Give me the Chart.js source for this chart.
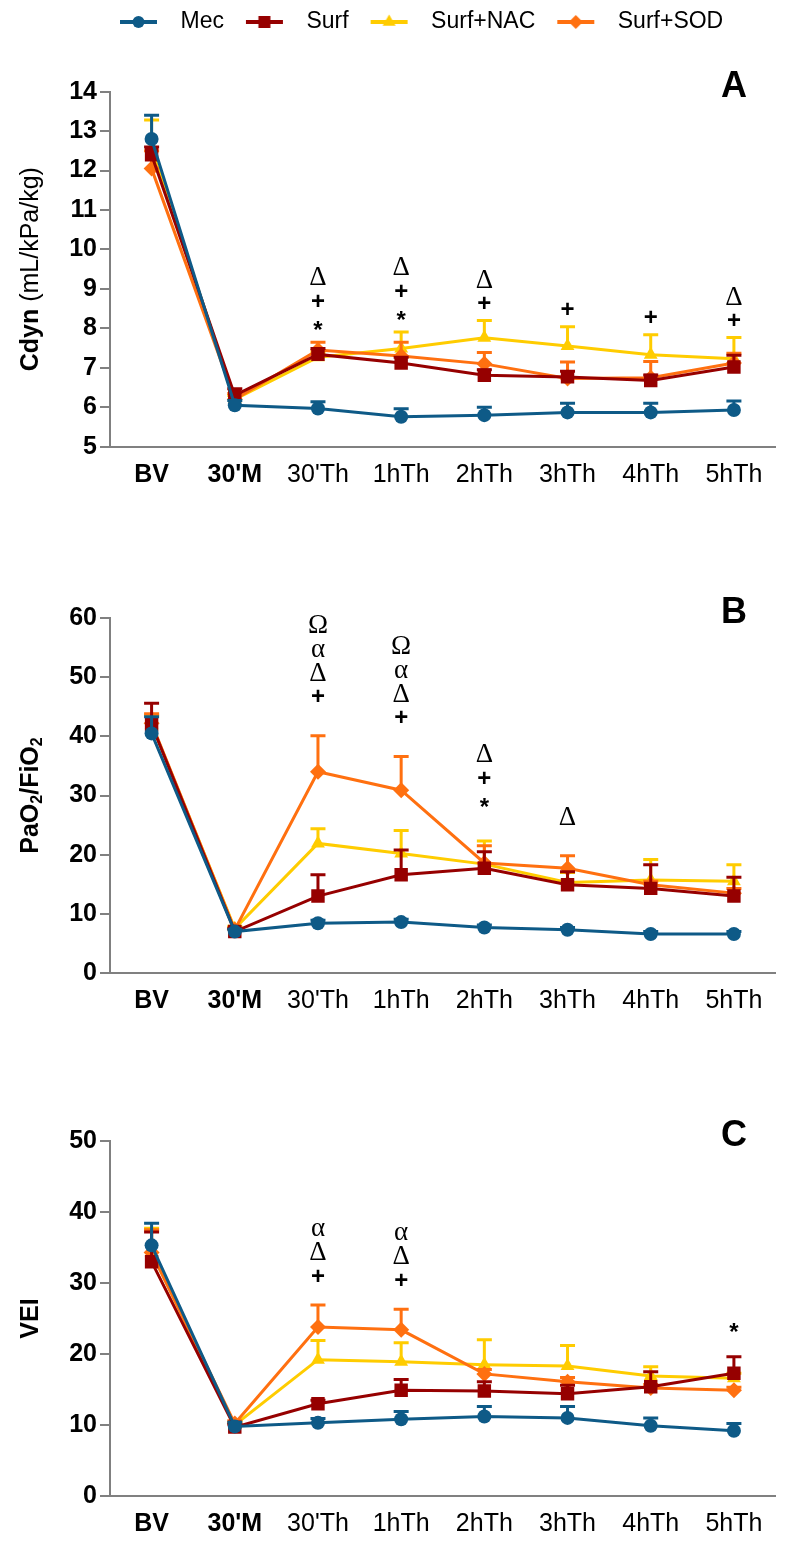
<!DOCTYPE html>
<html>
<head>
<meta charset="utf-8">
<script src="https://cdn.jsdelivr.net/npm/chart.js@4.4.1/dist/chart.umd.min.js"></script>
<style>
body { margin: 0; background: #fff; }
#wrap { position: relative; width: 785px; height: 1550px; }
canvas { position: absolute; left: 0; }
</style>
</head>
<body>
<div id="wrap">
<canvas id="cdyn" width="785" height="500" style="top:0px"></canvas>
<canvas id="pao" width="785" height="530" style="top:500px"></canvas>
<canvas id="vei" width="785" height="520" style="top:1030px"></canvas>
</div>
<script>
var timeLabels = ['BV', "30'M", "30'Th", '1hTh', '2hTh', '3hTh', '4hTh', '5hTh'];
var seriesNames = ['Mec', 'Surf', 'Surf+NAC', 'Surf+SOD'];

// A: Cdyn, means and upper SE
var cdynMec  = [12.8, 6.05, 5.97, 5.76, 5.80, 5.87, 5.87, 5.93];
var cdynSurf = [12.4, 6.30, 7.34, 7.12, 6.81, 6.77, 6.68, 7.02];
var cdynNac  = [12.55, 6.20, 7.27, 7.49, 7.76, 7.55, 7.33, 7.23];
var cdynSod  = [12.05, 6.20, 7.45, 7.30, 7.10, 6.73, 6.75, 7.12];
var cdynMecErr  = [0.60, 0.12, 0.17, 0.20, 0.20, 0.23, 0.23, 0.23];
var cdynSurfErr = [0.20, 0.17, 0.15, 0.15, 0.14, 0.14, 0.14, 0.30];
var cdynNacErr  = [0.73, 0.10, 0.12, 0.42, 0.44, 0.49, 0.51, 0.54];
var cdynSodErr  = [0.45, 0.15, 0.20, 0.35, 0.29, 0.42, 0.41, 0.25];
var cdynNotes = [[], [], ['Δ', '+', '*'], ['Δ', '+', '*'], ['Δ', '+'], ['+'], ['+'], ['Δ', '+']];

// B: PaO2/FiO2
var paoMec  = [40.5, 7.0, 8.4, 8.6, 7.7, 7.3, 6.6, 6.6];
var paoSurf = [42.0, 7.0, 13.0, 16.6, 17.7, 14.9, 14.3, 13.0];
var paoNac  = [42.0, 7.5, 21.9, 20.2, 18.4, 15.3, 15.7, 15.5];
var paoSod  = [42.2, 7.3, 34.0, 30.9, 18.6, 17.7, 14.9, 13.5];
var paoMecErr  = [2.8, 0.4, 0.5, 0.5, 0.4, 0.4, 0.4, 0.4];
var paoSurfErr = [3.6, 0.5, 3.6, 4.2, 2.8, 2.2, 4.0, 3.2];
var paoNacErr  = [1.6, 0.4, 2.5, 3.9, 3.9, 1.7, 3.5, 2.8];
var paoSodErr  = [1.6, 0.4, 6.1, 5.7, 2.9, 2.1, 0.6, 0.8];
var paoNotes = [[], [], ['Ω', 'α', 'Δ', '+'], ['Ω', 'α', 'Δ', '+'], ['Δ', '+', '*'], ['Δ'], [], []];

// C: VEI
var veiMec  = [35.3, 9.8, 10.3, 10.8, 11.2, 11.0, 9.9, 9.2];
var veiSurf = [33.0, 9.7, 13.0, 14.9, 14.8, 14.4, 15.4, 17.3];
var veiNac  = [34.3, 10.0, 19.2, 18.9, 18.5, 18.3, 16.9, 16.6];
var veiSod  = [34.3, 10.2, 23.8, 23.4, 17.2, 16.1, 15.2, 14.9];
var veiMecErr  = [3.1, 0.6, 0.6, 1.1, 1.4, 1.6, 1.1, 1.0];
var veiSurfErr = [4.2, 0.4, 0.5, 1.5, 1.3, 1.2, 2.1, 2.3];
var veiNacErr  = [3.4, 0.4, 2.7, 2.7, 3.5, 2.9, 1.3, 0.7];
var veiSodErr  = [3.2, 0.4, 3.1, 2.9, 0.6, 0.6, 0.5, 0.4];
var veiNotes = [[], [], ['α', 'Δ', '+'], ['α', 'Δ', '+'], [], [], [], ['*']];

var SANS = "'Liberation Sans', Arial, sans-serif";
var SERIF = "'Liberation Serif', 'Times New Roman', serif";
var AXIS = '#808080';
var colors = ['#0E5A87', '#960000', '#FFCC00', '#FF7010'];
var markers = ['circle', 'rect', 'triangle', 'rectRot'];
var markerSize = [7, 9.5, 8, 8];
var drawOrder = [0, 1, 3, 2];

function shape(ctx, style, x, y, r) {
	ctx.beginPath();
	if (style == 'circle') {
		ctx.arc(x, y, r, 0, Math.PI * 2);
	} else if (style == 'rect') {
		var s = r * Math.SQRT1_2;
		ctx.rect(x - s, y - s, 2 * s, 2 * s);
	} else if (style == 'triangle') {
		ctx.moveTo(x, y - r);
		ctx.lineTo(x + r * 0.866, y + r / 2);
		ctx.lineTo(x - r * 0.866, y + r / 2);
		ctx.closePath();
	} else {
		ctx.moveTo(x - r, y); ctx.lineTo(x, y - r);
		ctx.lineTo(x + r, y); ctx.lineTo(x, y + r);
		ctx.closePath();
	}
	ctx.fill();
}

// legend icons: a short line with the marker on it
var legendIcons = colors.map(function(c, i) {
	var cv = document.createElement('canvas');
	cv.width = 61; cv.height = 20;
	var g = cv.getContext('2d');
	g.strokeStyle = c; g.fillStyle = c; g.lineWidth = 4;
	g.beginPath(); g.moveTo(12, 10); g.lineTo(49, 10); g.stroke();
	shape(g, markers[i], 30.5, 10, [6, 8.5, 7.5, 7][i]);
	return cv;
});

function extras(cfg) {
	return {
		id: 'extras',
		beforeDatasetDraw: function(chart, args) {
			var ds = chart.data.datasets[args.index];
			var ys = chart.scales.y, ctx = chart.ctx;
			ctx.save();
			ctx.strokeStyle = ds.borderColor;
			ctx.lineWidth = 3;
			args.meta.data.forEach(function(pt, i) {
				var top = ys.getPixelForValue(ds.data[i] + ds.errUp[i]);
				ctx.beginPath();
				ctx.moveTo(pt.x, pt.y); ctx.lineTo(pt.x, top);
				ctx.moveTo(pt.x - 7.5, top); ctx.lineTo(pt.x + 7.5, top);
				ctx.stroke();
			});
			ctx.restore();
		},
		afterDatasetsDraw: function(chart) {
			var ctx = chart.ctx, xs = chart.scales.x, ys = chart.scales.y;
			ctx.save();
			ctx.fillStyle = '#000';
			ctx.textAlign = 'center';
			ctx.textBaseline = 'middle';
			cfg.notes.forEach(function(list, i) {
				if (!list.length) return;
				var capTop = Infinity;
				chart.data.datasets.forEach(function(ds) {
					capTop = Math.min(capTop, ys.getPixelForValue(ds.data[i] + ds.errUp[i]));
				});
				var base = capTop - cfg.gap;
				var x = xs.getPixelForValue(i);
				list.forEach(function(sym, k) {
					var y = base - (list.length - 1 - k) * 24;
					if (sym == '+' || sym == '*') {
						ctx.font = 'bold 24px ' + SANS;
						if (sym == '*') y += 5;
					} else {
						ctx.font = '27px ' + SERIF;
					}
					ctx.fillText(sym, x, y);
				});
			});
			ctx.restore();
		},
		afterDraw: function(chart) {
			var ctx = chart.ctx, area = chart.chartArea;
			ctx.save();
			ctx.fillStyle = '#000';
			// panel letter
			ctx.font = 'bold 36px ' + SANS;
			ctx.textAlign = 'center';
			ctx.textBaseline = 'middle';
			ctx.fillText(cfg.panel, chart.scales.x.getPixelForValue(7), area.top - 5);
			// y axis title, mixed weights and subscripts
			ctx.translate(31, (area.top + area.bottom) / 2);
			ctx.rotate(-Math.PI / 2);
			ctx.textAlign = 'left';
			var total = 0;
			cfg.title.forEach(function(p) {
				ctx.font = (p.b ? 'bold ' : '') + (p.sub ? 16 : 25) + 'px ' + SANS;
				p.w = ctx.measureText(p.t).width;
				total += p.w;
			});
			var x = -total / 2;
			cfg.title.forEach(function(p) {
				ctx.font = (p.b ? 'bold ' : '') + (p.sub ? 16 : 25) + 'px ' + SANS;
				ctx.fillText(p.t, x, p.sub ? 7 : 0);
				x += p.w;
			});
			ctx.restore();
		}
	};
}

function buildChart(id, cfg) {
	var datasets = cfg.values.map(function(vals, i) {
		return {
			label: seriesNames[i],
			data: vals,
			errUp: cfg.errors[i],
			order: drawOrder[i],
			borderColor: colors[i],
			backgroundColor: colors[i],
			pointBackgroundColor: colors[i],
			pointBorderWidth: 0,
			pointStyle: markers[i],
			pointRadius: markerSize[i],
			borderWidth: 3,
			tension: 0,
			fill: false
		};
	});
	var legend = { display: false };
	var title = { display: false };
	if (cfg.legend) {
		legend = {
			display: true, position: 'top', align: 'center', weight: 3000,
			labels: {
				usePointStyle: true, pointStyleWidth: 61, padding: 10, color: '#000',
				font: { family: SANS, size: 23 },
				generateLabels: function() {
					return seriesNames.map(function(n, i) {
						return { text: n, fillStyle: colors[i], strokeStyle: colors[i], lineWidth: 0,
							pointStyle: legendIcons[i], datasetIndex: i, hidden: false, fontColor: '#000' };
					});
				}
			}
		};
		title = { display: true, text: '', font: { size: 10, lineHeight: 1 }, padding: { top: 0, bottom: 38.2 } };
	}
	return new Chart(document.getElementById(id), {
		type: 'line',
		data: { labels: timeLabels, datasets: datasets },
		options: {
			responsive: false,
			animation: false,
			devicePixelRatio: 1,
			layout: { padding: cfg.pad },
			plugins: { legend: legend, title: title, tooltip: { enabled: false } },
			scales: {
				x: {
					offset: true,
					grid: { display: false, drawTicks: false },
					border: { display: true, color: AXIS, width: 2 },
					ticks: {
						color: '#000', padding: 13, maxRotation: 0, autoSkip: false,
						font: function(c) {
							return { family: SANS, size: 25, weight: c.index < 2 ? 'bold' : 'normal' };
						}
					},
					afterFit: function(s) { s.height = cfg.xHeight; }
				},
				y: {
					min: cfg.yMin, max: cfg.yMax,
					grid: { drawOnChartArea: false, drawTicks: true, tickLength: 10, color: AXIS, lineWidth: 2 },
					border: { display: true, color: AXIS, width: 2 },
					ticks: { stepSize: cfg.step, color: '#000', padding: 3, font: { family: SANS, size: 25, weight: 'bold' } },
					afterFit: function(s) { s.width = cfg.yWidth; }
				}
			}
		},
		plugins: [extras(cfg)]
	});
}

buildChart('cdyn', {
	values: [cdynMec, cdynSurf, cdynNac, cdynSod],
	errors: [cdynMecErr, cdynSurfErr, cdynNacErr, cdynSodErr],
	notes: cdynNotes, gap: 16, panel: 'A',
	title: [{ t: 'Cdyn', b: true }, { t: ' (mL/kPa/kg)' }],
	yMin: 5, yMax: 14, step: 1,
	legend: true,
	pad: { top: 0.5, left: 54.2, right: 8, bottom: 0 },
	yWidth: 55.8, xHeight: 53.3
});

buildChart('pao', {
	values: [paoMec, paoSurf, paoNac, paoSod],
	errors: [paoMecErr, paoSurfErr, paoNacErr, paoSodErr],
	notes: paoNotes, gap: 38, panel: 'B',
	title: [{ t: 'PaO', b: true }, { t: '2', b: true, sub: true }, { t: '/FiO', b: true }, { t: '2', b: true, sub: true }],
	yMin: 0, yMax: 60, step: 10,
	legend: false,
	pad: { top: 118, left: 0, right: 8, bottom: 0 },
	yWidth: 110, xHeight: 57
});

buildChart('vei', {
	values: [veiMec, veiSurf, veiNac, veiSod],
	errors: [veiMecErr, veiSurfErr, veiNacErr, veiSodErr],
	notes: veiNotes, gap: 28, panel: 'C',
	title: [{ t: 'VEI', b: true }],
	yMin: 0, yMax: 50, step: 10,
	legend: false,
	pad: { top: 111, left: 0, right: 8, bottom: 0 },
	yWidth: 110, xHeight: 54
});
</script>
</body>
</html>
